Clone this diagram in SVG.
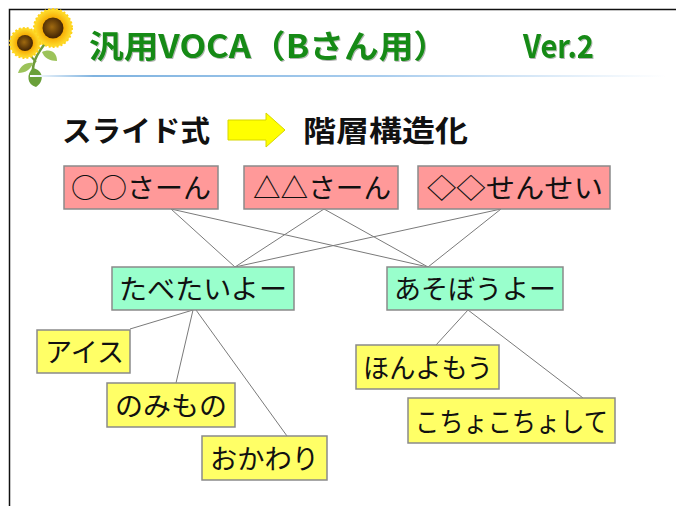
<svg xmlns="http://www.w3.org/2000/svg" width="676" height="506" viewBox="0 0 676 506">
  <defs>
    <linearGradient id="rule" x1="0" y1="0" x2="1" y2="0">
      <stop offset="0" stop-color="#ffffff"/>
      <stop offset="0.1" stop-color="#7fb3e0"/>
      <stop offset="0.55" stop-color="#a9cdee"/>
      <stop offset="1" stop-color="#ffffff"/>
    </linearGradient>
    <radialGradient id="petal" cx="0.5" cy="0.5" r="0.5">
      <stop offset="0.5" stop-color="#f6a800"/>
      <stop offset="1" stop-color="#ffe030"/>
    </radialGradient>
    <radialGradient id="seed" cx="0.45" cy="0.45" r="0.5">
      <stop offset="0" stop-color="#a06a10"/>
      <stop offset="1" stop-color="#4a2a05"/>
    </radialGradient>
    <filter id="tshadow" x="-5%" y="-20%" width="110%" height="140%">
      <feDropShadow dx="1" dy="1" stdDeviation="0.6" flood-color="#000" flood-opacity="0.3"/>
    </filter>
  </defs>
  <style>
    .title { font-family: "Noto Sans CJK JP", "Liberation Sans", sans-serif; font-weight: bold; font-size: 32px; fill: #158a15; }
    .head { font-family: "Noto Sans CJK JP", "Liberation Sans", sans-serif; font-weight: bold; font-size: 29px; fill: #111; }
    .box { stroke: #8a8a8a; stroke-width: 1.5; }
    .pink { fill: #ff9999; }
    .mint { fill: #99ffcc; }
    .yellow { fill: #ffff66; }
    .label { font-family: "Noto Sans CJK JP", "Liberation Sans", sans-serif; font-size: 27px; fill: #111; }
    .link { stroke: #7a7a7a; stroke-width: 1; fill: none; }
  </style>

  <rect width="676" height="506" fill="#ffffff"/>
  <!-- slide frame -->
  <path d="M9.5 506 V9.5 H676" fill="none" stroke="#111" stroke-width="1.5"/>

  <!-- sunflower emblem -->
  <g id="emblem">
    <path d="M34 80 C30 66 36 54 48 40" stroke="#6e9a3a" stroke-width="2.5" fill="none"/>
    <path d="M36 62 C30 56 27 50 26 44" stroke="#6e9a3a" stroke-width="2" fill="none"/>
    <path d="M42 52 C50 48 57 52 57 61 C50 61 44 58 42 52 Z" fill="#9cc35a"/>
    <path d="M33 63 C26 62 20 66 18 73 C26 73 31 69 33 63 Z" fill="#9cc35a"/>
    <path d="M33 68 C43 70 45 81 36 87 C27 85 26 74 33 68 Z" fill="#6aa03a"/>
    <circle cx="53" cy="28" r="19" fill="url(#petal)" stroke="#ffd21a" stroke-width="2" stroke-dasharray="2 2"/>
    <circle cx="53" cy="28" r="10.5" fill="url(#seed)"/>
    <circle cx="25" cy="43" r="15" fill="url(#petal)" stroke="#ffd21a" stroke-width="2" stroke-dasharray="2 2"/>
    <circle cx="25" cy="43" r="8" fill="url(#seed)"/>
  </g>

  <!-- title -->
  <g id="title">
    <text class="title" x="89" y="58" textLength="359" lengthAdjust="spacingAndGlyphs" filter="url(#tshadow)">汎用VOCA（Bさん用）</text>
    <text class="title" x="523" y="58" textLength="71" lengthAdjust="spacingAndGlyphs" filter="url(#tshadow)">Ver.2</text>
    <rect x="30" y="75" width="636" height="2" fill="url(#rule)"/>
  </g>

  <!-- heading: slide style to hierarchy -->
  <g id="heading">
    <text class="head" x="62" y="142" textLength="148" lengthAdjust="spacingAndGlyphs">スライド式</text>
    <path d="M228 120 H266 V113 L285 130 L266 147 V140 H228 Z" fill="#ffff00" stroke="#d6d600" stroke-width="1"/>
    <text class="head" x="303" y="142" textLength="165" lengthAdjust="spacingAndGlyphs">階層構造化</text>
  </g>

  <!-- connectors -->
  <g id="connectors">
    <line class="link" x1="171" y1="209" x2="235" y2="267"/>
    <line class="link" x1="171" y1="209" x2="428" y2="267"/>
    <line class="link" x1="324" y1="209" x2="235" y2="267"/>
    <line class="link" x1="324" y1="209" x2="428" y2="267"/>
    <line class="link" x1="501" y1="209" x2="235" y2="267"/>
    <line class="link" x1="501" y1="209" x2="428" y2="267"/>
    <line class="link" x1="193" y1="310" x2="130" y2="329"/>
    <line class="link" x1="193" y1="310" x2="176" y2="383"/>
    <line class="link" x1="196" y1="310" x2="287" y2="436"/>
    <line class="link" x1="468" y1="310" x2="436" y2="345"/>
    <line class="link" x1="468" y1="310" x2="583" y2="398"/>
  </g>

  <!-- people -->
  <g id="node-maru">
    <rect class="box pink" x="64" y="166" width="154" height="43"/>
    <text class="label" x="71" y="198" textLength="140" lengthAdjust="spacingAndGlyphs">○○さーん</text>
  </g>
  <g id="node-sankaku">
    <rect class="box pink" x="244" y="166" width="154" height="43"/>
    <text class="label" x="253" y="198" textLength="138" lengthAdjust="spacingAndGlyphs">△△さーん</text>
  </g>
  <g id="node-hishi">
    <rect class="box pink" x="418" y="166" width="192" height="43"/>
    <text class="label" x="427" y="198" textLength="176" lengthAdjust="spacingAndGlyphs">◇◇せんせい</text>
  </g>

  <!-- categories -->
  <g id="node-tabetai">
    <rect class="box mint" x="112" y="267" width="182" height="43"/>
    <text class="label" x="119" y="299" textLength="168" lengthAdjust="spacingAndGlyphs">たべたいよー</text>
  </g>
  <g id="node-asobou">
    <rect class="box mint" x="387" y="267" width="176" height="43"/>
    <text class="label" x="394" y="299" textLength="162" lengthAdjust="spacingAndGlyphs">あそぼうよー</text>
  </g>

  <!-- items -->
  <g id="node-aisu">
    <rect class="box yellow" x="37" y="330" width="93" height="43"/>
    <text class="label" x="45" y="362" textLength="79" lengthAdjust="spacingAndGlyphs">アイス</text>
  </g>
  <g id="node-nomimono">
    <rect class="box yellow" x="107" y="383" width="128" height="44"/>
    <text class="label" x="115" y="416" textLength="112" lengthAdjust="spacingAndGlyphs">のみもの</text>
  </g>
  <g id="node-okawari">
    <rect class="box yellow" x="202" y="436" width="125" height="44"/>
    <text class="label" x="210" y="469" textLength="109" lengthAdjust="spacingAndGlyphs">おかわり</text>
  </g>
  <g id="node-honyomou">
    <rect class="box yellow" x="356" y="345" width="143" height="44"/>
    <text class="label" x="363" y="378" textLength="130" lengthAdjust="spacingAndGlyphs">ほんよもう</text>
  </g>
  <g id="node-kochokocho">
    <rect class="box yellow" x="408" y="398" width="207" height="45"/>
    <text class="label" x="415" y="432" textLength="193" lengthAdjust="spacingAndGlyphs">こちょこちょして</text>
  </g>
</svg>
